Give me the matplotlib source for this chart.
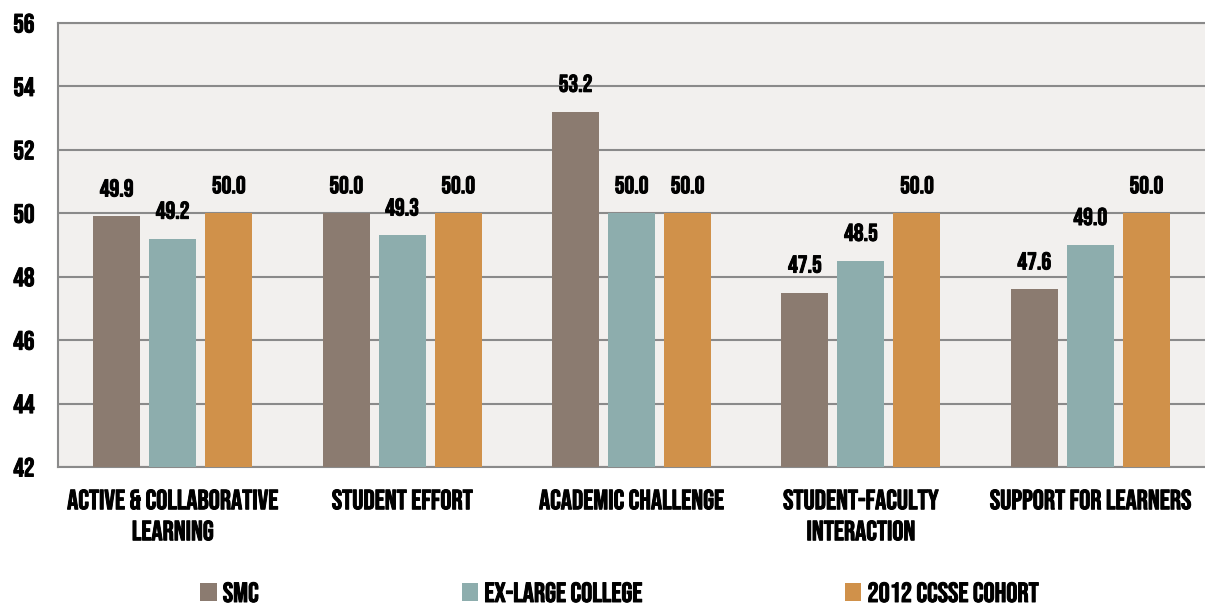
import matplotlib
matplotlib.use("Agg")
import matplotlib.pyplot as plt
import matplotlib.patheffects as pe
import numpy as np
from matplotlib.patches import Patch

categories = ["ACTIVE & COLLABORATIVE\nLEARNING", "STUDENT EFFORT", "ACADEMIC CHALLENGE",
              "STUDENT-FACULTY\nINTERACTION", "SUPPORT FOR LEARNERS"]
series_names = ["SMC", "EX-LARGE COLLEGE", "2012 CCSSE COHORT"]
smc = [49.9, 50.0, 53.2, 47.5, 47.6]
exlarge = [49.2, 49.3, 50.0, 48.5, 49.0]
cohort = [50.0, 50.0, 50.0, 50.0, 50.0]
yticks = [42, 44, 46, 48, 50, 52, 54, 56]

colors = ["#8b7b70", "#8dadad", "#d0914a"]
FONT = ["Bebas Neue", "Oswald", "Roboto Condensed", "DejaVu Sans Condensed", "DejaVu Sans"]
plt.rcParams['font.family'] = FONT
bold = [pe.withStroke(linewidth=0.7, foreground='black')]

fig = plt.figure(figsize=(12.05, 6.04), dpi=100)
ax = fig.add_axes([58/1205, 1-467/604, 1-58/1205, (467-23)/604])
ax.set_facecolor("#f2f0ee")

x = np.arange(len(categories))
w = 0.205
off = 0.244
for i, (vals, c) in enumerate(zip([smc, exlarge, cohort], colors)):
    pos = x + (i-1)*off
    ax.bar(pos, [v-42 for v in vals], bottom=42, width=w, color=c, zorder=3, label=series_names[i])
    for p, v in zip(pos, vals):
        ax.text(p, v+0.63, f"{v:.1f}", ha='center', va='baseline', fontsize=17.5, zorder=4,
                path_effects=bold)

ax.set_xlim(-0.5, len(categories)-0.5)
ax.set_ylim(42, 56)
ax.set_yticks(yticks)
ax.set_yticklabels([str(t) for t in yticks], fontsize=19, path_effects=bold)
ax.set_xticks(x)
ax.set_xticklabels(categories, fontsize=20, linespacing=1.55, path_effects=bold)
ax.tick_params(axis='both', length=0)
ax.tick_params(axis='x', pad=16)
ax.tick_params(axis='y', pad=17)
ax.yaxis.grid(True, color="#8a8a8a", linewidth=1.5, zorder=1)
for s in ["top", "left", "bottom"]:
    ax.spines[s].set_color("#8a8a8a")
    ax.spines[s].set_linewidth(1.5)
ax.spines["right"].set_visible(False)

handles = [Patch(facecolor=c) for c in colors]
leg = fig.legend(handles, series_names, loc='center left', bbox_to_anchor=(200/1205, 1-592/604),
                 ncol=3, frameon=False, handlelength=0.6, handleheight=0.6, borderpad=0,
                 borderaxespad=0, handletextpad=0.22, columnspacing=7.3, prop={'size': 20})
for t in leg.get_texts():
    t.set_path_effects(bold)

fig.savefig("out.png", dpi=100)
